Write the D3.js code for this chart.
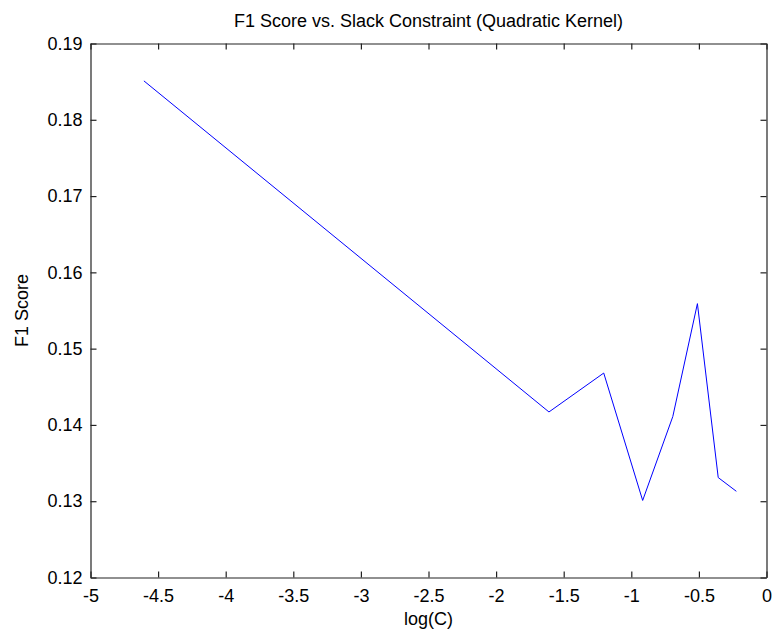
<!DOCTYPE html>
<html>
<head>
<meta charset="utf-8">
<script src="https://cdn.jsdelivr.net/npm/d3@7"></script>
<style>
  body { margin: 0; background: #fff; }
  text { font-family: "Liberation Sans", Arial, sans-serif; fill: #000; }
</style>
</head>
<body>
<script>
// log(C) values and the F1 score measured at each one
const logC = [-4.605, -1.609, -1.204, -0.916, -0.693, -0.511, -0.357, -0.223];
const f1 = [0.1851, 0.1417, 0.1468, 0.1301, 0.1411, 0.1559, 0.1331, 0.1313];
const xTicks = [-5, -4.5, -4, -3.5, -3, -2.5, -2, -1.5, -1, -0.5, 0];
const yTicks = [0.12, 0.13, 0.14, 0.15, 0.16, 0.17, 0.18, 0.19];

const width = 772, height = 635;
const margin = {top: 43.5, right: 5.5, bottom: 57.5, left: 90.5};
const fontSize = 18;

const svg = d3.select("body").append("svg")
    .attr("width", width)
    .attr("height", height);

const x = d3.scaleLinear().domain([-5, 0]).range([margin.left, width - margin.right]);
const y = d3.scaleLinear().domain([0.12, 0.19]).range([height - margin.bottom, margin.top]);

const fmt = d => String(d);

// bottom axis with ticks pointing inward
const xAxis = svg.append("g")
    .attr("transform", `translate(0,${height - margin.bottom})`)
    .call(d3.axisBottom(x).tickValues(xTicks).tickFormat(fmt).tickSizeInner(-6).tickSizeOuter(0));
xAxis.selectAll("text").attr("font-size", fontSize).attr("y", 24.5).attr("dy", 0);

// top mirror ticks
svg.append("g")
    .attr("transform", `translate(0,${margin.top})`)
    .call(d3.axisTop(x).tickValues(xTicks).tickFormat("").tickSizeInner(-6).tickSizeOuter(0));

// left axis
const yAxis = svg.append("g")
    .attr("transform", `translate(${margin.left},0)`)
    .call(d3.axisLeft(y).tickValues(yTicks).tickFormat(fmt).tickSizeInner(-6).tickSizeOuter(0).tickPadding(8));
yAxis.selectAll("text").attr("font-size", fontSize);

// right mirror ticks
svg.append("g")
    .attr("transform", `translate(${width - margin.right},0)`)
    .call(d3.axisRight(y).tickValues(yTicks).tickFormat("").tickSizeInner(-6).tickSizeOuter(0));

svg.selectAll(".domain").attr("stroke", "#222").attr("stroke-width", 1.2);
svg.selectAll(".tick line").attr("stroke", "#222").attr("stroke-width", 1.2);

// the F1 curve
const line = d3.line()
    .x((d, i) => x(logC[i]))
    .y(d => y(d));

svg.append("path")
    .datum(f1)
    .attr("fill", "none")
    .attr("stroke", "#0000ff")
    .attr("stroke-width", 1)
    .attr("d", line);

// title and labels
svg.append("text")
    .attr("x", (margin.left + width - margin.right) / 2)
    .attr("y", 27)
    .attr("text-anchor", "middle")
    .attr("font-size", fontSize)
    .text("F1 Score vs. Slack Constraint (Quadratic Kernel)");

svg.append("text")
    .attr("x", (margin.left + width - margin.right) / 2)
    .attr("y", 625)
    .attr("text-anchor", "middle")
    .attr("font-size", fontSize)
    .text("log(C)");

svg.append("text")
    .attr("transform", `translate(28,${(margin.top + height - margin.bottom) / 2}) rotate(-90)`)
    .attr("text-anchor", "middle")
    .attr("font-size", fontSize)
    .text("F1 Score");
</script>
</body>
</html>
